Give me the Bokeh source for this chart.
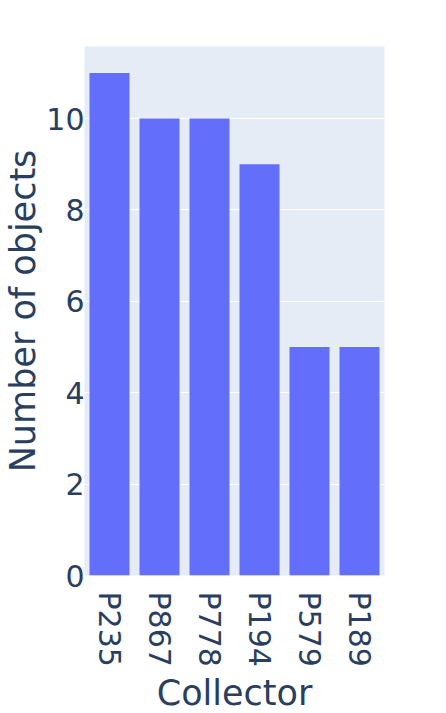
import math
from bokeh.plotting import figure
from bokeh.models import Range1d, FactorRange
from bokeh.embed import file_html
from bokeh.resources import INLINE

collectors = ["P235", "P867", "P778", "P194", "P579", "P189"]
counts = [11, 10, 10, 9, 5, 5]
y_ticks = [0, 2, 4, 6, 8, 10]

TEXT = "#2a3f5f"
FONT = "DejaVu Sans"

p = figure(
    x_range=FactorRange(*collectors),
    y_range=Range1d(0, 11.578),
    frame_width=300, frame_height=529,
    min_border_left=70, min_border_right=55, min_border_top=46, min_border_bottom=122,
    output_backend="svg", toolbar_location=None,
)
p.background_fill_color = "#E5ECF6"
p.border_fill_color = "white"
p.outline_line_color = None

p.vbar(x=collectors, top=counts, width=0.8, color="#636efa", line_color=None)

p.xgrid.grid_line_color = None
p.ygrid.grid_line_color = "white"
p.ygrid.grid_line_width = 1
p.yaxis.ticker = y_ticks

for ax in (p.xaxis[0], p.yaxis[0]):
    ax.axis_line_color = None
    ax.major_tick_line_color = None
    ax.minor_tick_line_color = None
    ax.major_tick_out = 0
    ax.major_tick_in = 0
    ax.major_label_text_font = FONT
    ax.major_label_text_font_size = "30px"
    ax.major_label_text_color = TEXT
    ax.axis_label_text_font = FONT
    ax.axis_label_text_font_size = "35px"
    ax.axis_label_text_color = TEXT
    ax.axis_label_text_font_style = "normal"

p.xaxis.axis_label = "Collector"
p.yaxis.axis_label = "Number of objects"
p.xaxis.major_label_orientation = -math.pi / 2
p.xaxis.major_label_standoff = 16
p.yaxis.major_label_standoff = 0
p.xaxis.axis_label_standoff = 3
p.yaxis.axis_label_standoff = 0

open("out.html", "w").write(file_html(p, INLINE))
